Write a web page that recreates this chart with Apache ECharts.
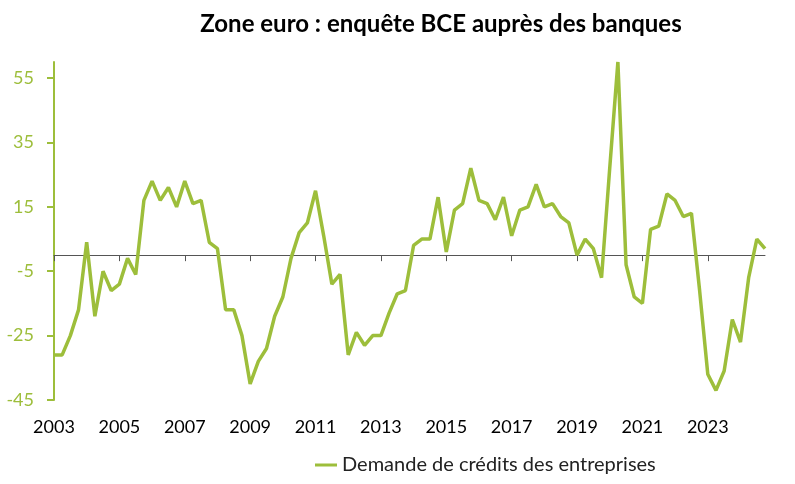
<!DOCTYPE html>
<html>
<head>
<meta charset="utf-8">
<script src="https://cdn.jsdelivr.net/npm/echarts@6/dist/echarts.min.js"></script>
<style>
  html, body { margin: 0; padding: 0; background: #fff; }
  #chart { width: 795px; height: 484px; }
</style>
</head>
<body>
<div id="chart"></div>
<script>
// quarters 2003T1 .. 2024T4
const years = [2003, 2004, 2005, 2006, 2007, 2008, 2009, 2010, 2011, 2012, 2013,
  2014, 2015, 2016, 2017, 2018, 2019, 2020, 2021, 2022, 2023, 2024];
const quarters = [];
years.forEach(y => { for (let q = 1; q <= 4; q++) quarters.push(y + 'T' + q); });

// demande nette de crédits des entreprises (%)
const demandeEntreprises = [
  -31, -31, -25, -17, 4, -19, -5, -11, -9, -1, -6, 17,
  23, 17, 21, 15, 23, 16, 17, 4, 2, -17, -17, -25,
  -40, -33, -29, -19, -13, -1, 7, 10, 20, 6, -9, -6,
  -31, -24, -28, -25, -25, -18, -12, -11, 3, 5, 5, 18,
  1, 14, 16, 27, 17, 16, 11, 18, 6, 14, 15, 22,
  15, 16, 12, 10, 0, 5, 2, -7, 27, 60, -3, -13,
  -15, 8, 9, 19, 17, 12, 13, -11, -37, -42, -36, -20,
  -27, -7, 5, 2
];

const yTicks = [-45, -25, -5, 15, 35, 55];

const green = '#9DBE3B';
const fontFam = 'Lato, "Open Sans", sans-serif';

const chart = echarts.init(document.getElementById('chart'));
chart.setOption({
  animation: false,
  title: {
    text: 'Zone euro : enquête BCE auprès des banques',
    left: 436,
    textAlign: 'center',
    top: 7,
    textStyle: { fontFamily: fontFam, fontSize: 24, fontWeight: 'bold', color: '#000' }
  },
  legend: {
    left: 310,
    top: 450,
    icon: 'rect',
    itemWidth: 22,
    itemHeight: 3,
    textStyle: { fontFamily: fontFam, fontSize: 20, color: '#222' },
    data: ['Demande de crédits des entreprises']
  },
  grid: { left: 54, right: 30, top: 62, bottom: 84, containLabel: false },
  xAxis: [
    {
      type: 'category',
      data: quarters,
      boundaryGap: false,
      axisLine: { show: false, onZero: false },
      axisTick: { show: false },
      axisLabel: {
        interval: 7,
        margin: 18,
        fontFamily: fontFam,
        fontSize: 18,
        color: '#000',
        formatter: v => v.slice(0, 4)
      },
      splitLine: { show: false }
    },
    {
      type: 'category',
      data: quarters,
      boundaryGap: false,
      position: 'bottom',
      axisLine: { show: true, onZero: true, lineStyle: { color: '#555', width: 1 } },
      axisTick: { show: true, interval: 7, inside: false, length: 6, lineStyle: { color: '#555' } },
      axisLabel: { show: false },
      splitLine: { show: false }
    }
  ],
  yAxis: {
    type: 'value',
    min: -45,
    max: 60,
    interval: 20,
    axisLine: { show: true, lineStyle: { color: green, width: 2 } },
    axisTick: { show: true, length: 7, customValues: yTicks, lineStyle: { color: green, width: 2 } },
    axisLabel: {
      customValues: yTicks,
      margin: 20,
      fontFamily: fontFam,
      fontSize: 18,
      color: green
    },
    splitLine: { show: false }
  },
  series: [
    {
      name: 'Demande de crédits des entreprises',
      type: 'line',
      data: demandeEntreprises,
      showSymbol: false,
      symbol: 'none',
      lineStyle: { color: green, width: 3.5 },
      itemStyle: { color: green }
    }
  ]
});
</script>
</body>
</html>
